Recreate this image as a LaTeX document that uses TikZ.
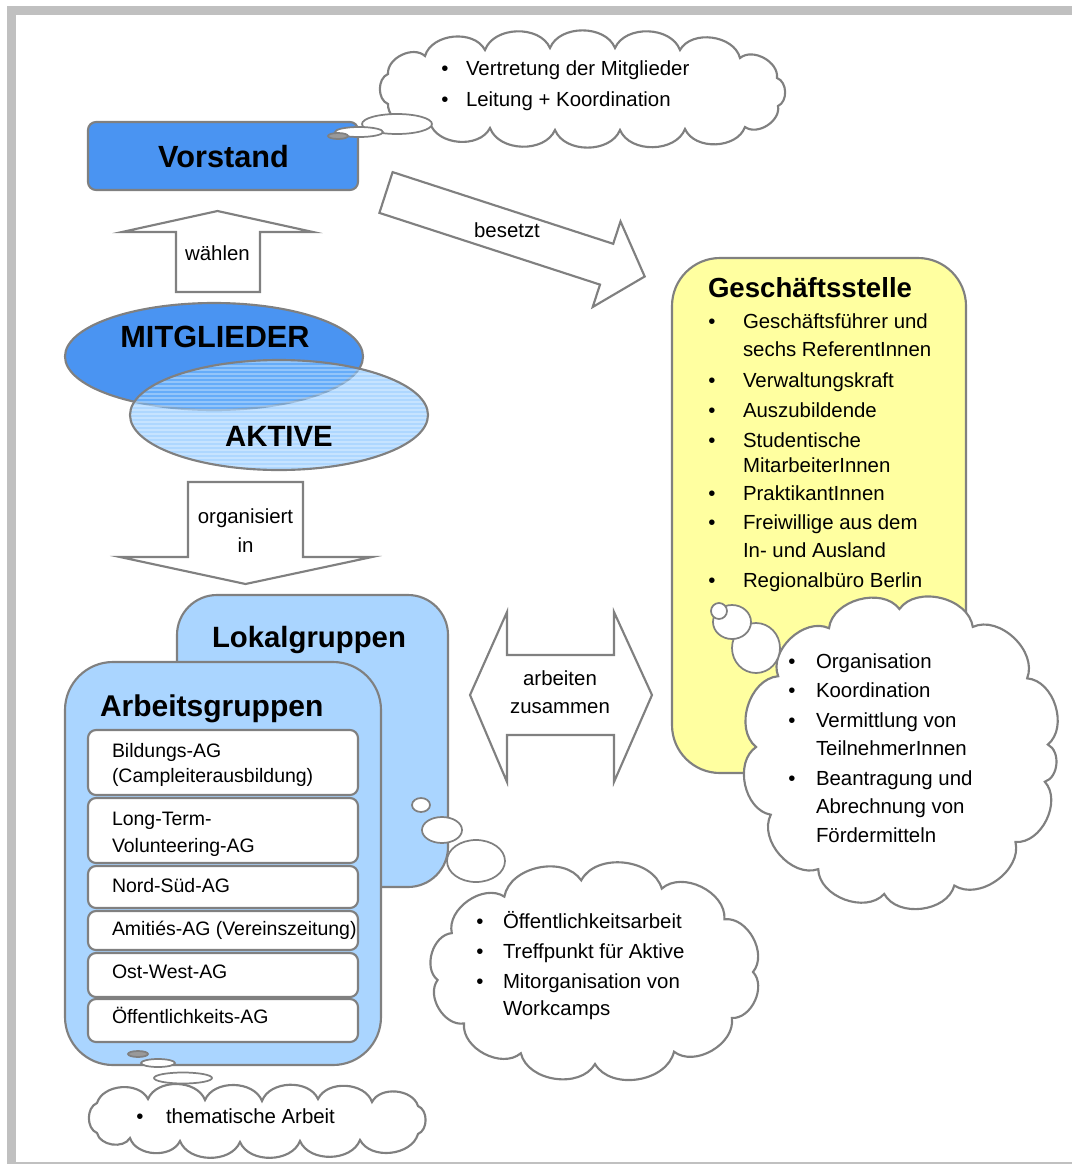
\documentclass[tikz,border=0pt]{standalone}
\usepackage{fontspec}
\setmainfont{Liberation Sans}
\definecolor{linegrey}{RGB}{128,128,128}
\definecolor{framegrey}{RGB}{192,192,192}
\definecolor{darkblue}{RGB}{74,148,242}
\definecolor{lightblue}{RGB}{170,213,255}
\definecolor{aktiveblue}{RGB}{120,188,255}
\definecolor{paleyellow}{RGB}{255,255,160}
\newcommand\bodyfont{\fontsize{15.3}{18}\selectfont}
\newcommand\rowfont{\fontsize{14.6}{18}\selectfont}
\newcommand\titlefont[1]{\fontsize{#1}{#1}\selectfont\bfseries}

\tikzset{every picture/.style={line width=1.5pt}}

\begin{document}
\begin{tikzpicture}[x=0.75pt,y=0.75pt,yscale=-1,xscale=1,
  boxline/.style={draw=linegrey, line width=1.6pt},
  bubble/.style={draw=linegrey, line width=1.3pt, fill=white},
  blockarrow/.style={draw=linegrey, line width=1.6pt, fill=white, line join=miter},
  cloudline/.style={draw=linegrey, line width=1.6pt, fill=white, line join=miter},
  lobe/.style={bend right=68},
  bodytext/.style={anchor=base west, inner sep=0pt, font=\bodyfont},
  rowtext/.style={anchor=base west, inner sep=0pt, font=\rowfont},
  dot/.style={anchor=base, inner sep=0pt, font=\bodyfont},
  label/.style={anchor=base, inner sep=0pt, font=\bodyfont, align=center}]
\useasboundingbox (0,0) rectangle (1072,1164);

%Frame
\fill[framegrey] (7,6) rectangle (1072,15);
\fill[framegrey] (7,6) rectangle (16,1164);
\fill[framegrey] (7,1161.5) rectangle (1072,1164);

%Rounded Rect: Vorstand
\draw[boxline, fill=darkblue, rounded corners=6pt] (88,122) rectangle (358,190);
% Text Node
\node[anchor=base, inner sep=0pt, font=\titlefont{23}] (vorstand) at (223.5,167) {Vorstand};

%Cloud: Vorstand
\filldraw[cloudline] (388,74) \foreach \px/\py in {425/56, 485/50, 550/48, 615/48, 680/50, 740/58, 777/78, 778/106, 745/127, 685/129, 620/130, 555/130, 490/128, 430/123, 388/104, 388/74}{ to[lobe] (\px,\py) } -- cycle;
\draw[bubble] (397,124) ellipse (35 and 10);
\draw[bubble] (359,132) ellipse (24 and 5);
\draw[bubble, fill=linegrey!80] (338,136) ellipse (10 and 3);
% Text Node
\foreach \yy/\txt [count=\i] in {75/Vertretung der Mitglieder, 106/Leitung + Koordination}{
  \node[dot] (vdot\i) at (445,\yy) {•};
  \node[bodytext] (vline\i) at (465,\yy) {\txt};
}

%Block Arrow: waehlen
\draw[blockarrow] (176,292) -- (176,232) -- (122,232) -- (217.5,211) -- (313,232) -- (260,232) -- (260,292) -- cycle;
\node[label] (waehlen) at (217.5,260) {wählen};

%Block Arrow: besetzt
\draw[blockarrow] (392.6,172.1) -- (613.2,243.8) -- (620.5,221.4) -- (644.7,276.5) -- (592.7,307.0) -- (600.0,284.6) -- (379.4,212.9) -- cycle;
\node[label] (besetzt) at (507,237) {besetzt};

%Ellipses: Mitglieder and Aktive
\draw[boxline, fill=darkblue] (214,356.5) ellipse (149 and 53.5);
\fill[aktiveblue, fill opacity=0.6] (279,415) ellipse (149 and 55);
\begin{scope}
  \clip (279,415) ellipse (149 and 55);
  \foreach \yy in {362,366,...,470}{
    \draw[white, opacity=0.3, line width=0.9pt] (130,\yy) -- (428,\yy);
  }
\end{scope}
\draw[boxline] (279,415) ellipse (149 and 55);
\node[anchor=base, inner sep=0pt, font=\titlefont{23}] (mitglieder) at (215,347) {MITGLIEDER};
\node[anchor=base, inner sep=0pt, font=\titlefont{22}] (aktive) at (279,446) {AKTIVE};

%Block Arrow: organisiert in
\draw[blockarrow] (188,482) -- (303,482) -- (303,557) -- (372,557) -- (245.5,584) -- (120,557) -- (188,557) -- cycle;
\node[label] (organisiert) at (245.5,523) {organisiert};
\node[label] (in) at (245.5,552) {in};

%Block Arrow: arbeiten zusammen
\draw[blockarrow] (470,695) -- (507,612) -- (507,655) -- (614,655) -- (614,612) -- (652,695) -- (614,782) -- (614,735) -- (507,735) -- (507,782) -- cycle;
\node[label] (arbeiten) at (560,685) {arbeiten};
\node[label] (zusammen) at (560,713) {zusammen};

%Rounded Rect: Geschaeftsstelle
\draw[boxline, fill=paleyellow, rounded corners=36pt] (672,258) rectangle (966,773);
\node[anchor=base west, inner sep=0pt, font=\titlefont{20.7}] (gs) at (707,297) {Geschäftsstelle};
\foreach \yy in {328,387,417,447,500,529,587}{
  \node[dot] (gsdot\yy) at (712,\yy) {•};
}
\foreach \yy/\txt [count=\i] in {328/Geschäftsführer und, 356/sechs ReferentInnen, 387/Verwaltungskraft, 417/Auszubildende, 447/Studentische, 472/MitarbeiterInnen, 500/PraktikantInnen, 529/Freiwillige aus dem, 557/In- und Ausland, 587/Regionalbüro Berlin}{
  \node[bodytext] (gsline\i) at (742,\yy) {\txt};
}

%Cloud: Geschaeftsstelle
\filldraw[cloudline] ([shift={(902,752)}]12:146 and 143) \foreach \a in {39,69,97,125,154,182,212,240,269,299,329,357,372}{ to[lobe] ([shift={(902,752)}]\a:146 and 143) } -- cycle;
\draw[bubble] (756,648) ellipse (24 and 25);
\draw[bubble] (732,622) ellipse (19 and 17);
\draw[bubble] (719,611) ellipse (8 and 8);
\foreach \yy in {668,697,727,785}{
  \node[dot] (gcdot\yy) at (792,\yy) {•};
}
\foreach \yy/\txt [count=\i] in {668/Organisation, 697/Koordination, 727/Vermittlung von, 755/TeilnehmerInnen, 785/Beantragung und, 813/Abrechnung von, 842/Fördermitteln}{
  \node[bodytext] (gcline\i) at (815,\yy) {\txt};
}

%Rounded Rect: Lokalgruppen
\draw[boxline, fill=lightblue, rounded corners=30pt] (177,595) rectangle (448,887);
\node[anchor=base west, inner sep=0pt, font=\titlefont{22}] (lokal) at (211,647) {Lokalgruppen};

%Rounded Rect: Arbeitsgruppen
\draw[boxline, fill=lightblue, rounded corners=36pt] (65,662) rectangle (381,1065);
\node[anchor=base west, inner sep=0pt, font=\titlefont{22.5}] (arbeit) at (99,716) {Arbeitsgruppen};

%Rows: Arbeitsgruppen
\foreach \ya/\yb in {730/795, 798/863, 866/908, 911/950, 953/997, 999/1042}{
  \draw[boxline, fill=white, rounded corners=6pt] (88,\ya) rectangle (358,\yb);
}
\foreach \yy/\txt [count=\i] in {757/Bildungs-AG, 782/(Campleiterausbildung), 825/Long-Term-, 852/Volunteering-AG, 892/Nord-Süd-AG, 935/Amitiés-AG (Vereinszeitung), 978/Ost-West-AG, 1023/Öffentlichkeits-AG}{
  \node[rowtext] (agline\i) at (111,\yy) {\txt};
}

%Cloud: Lokalgruppen
\filldraw[cloudline] ([shift={(595,972)}]0:158 and 92) \foreach \a in {30,60,90,118,146,175,205,235,265,295,325,360}{ to[lobe] ([shift={(595,972)}]\a:158 and 92) } -- cycle;
\draw[bubble] (476,861) ellipse (29 and 21);
\draw[bubble] (442,830) ellipse (20 and 13);
\draw[bubble] (421,805) ellipse (9 and 7);
\foreach \yy in {928,958,988}{
  \node[dot] (oedot\yy) at (480,\yy) {•};
}
\foreach \yy/\txt [count=\i] in {928/Öffentlichkeitsarbeit, 958/Treffpunkt für Aktive, 988/Mitorganisation von, 1015/Workcamps}{
  \node[bodytext] (oeline\i) at (502,\yy) {\txt};
}

%Cloud: Arbeitsgruppen
\filldraw[cloudline] (97,1103) \foreach \px/\py in {148/1099, 205/1100, 262/1101, 318/1099, 372/1102, 418/1106, 418/1134, 360/1140, 300/1141, 240/1142, 180/1141, 130/1138, 97/1133, 97/1103}{ to[lobe] (\px,\py) } -- cycle;
\draw[bubble] (183,1078) ellipse (29 and 5.5);
\draw[bubble] (158,1063) ellipse (17 and 4);
\draw[bubble, fill=linegrey!80] (138,1054) ellipse (10 and 3);
\node[dot] (tadot) at (140,1123) {•};
\node[bodytext] (taline) at (165,1123) {thematische Arbeit};

\end{tikzpicture}
\end{document}
